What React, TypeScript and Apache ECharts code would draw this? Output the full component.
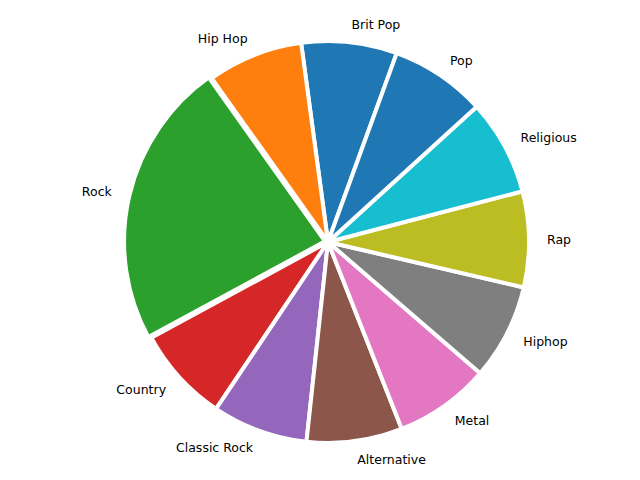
import React, { useEffect, useRef } from "react";
import * as echarts from "echarts";

const categories = [
  "Brit Pop",
  "Hip Hop",
  "Rock",
  "Country",
  "Classic Rock",
  "Alternative",
  "Metal",
  "Hiphop",
  "Rap",
  "Religious",
  "Pop",
];
const values = [1, 1, 3, 1, 1, 1, 1, 1, 1, 1, 1];
const exploded = ["Rock"];
const colors = [
  "#1f77b4",
  "#ff7f0e",
  "#2ca02c",
  "#d62728",
  "#9467bd",
  "#8c564b",
  "#e377c2",
  "#7f7f7f",
  "#bcbd22",
  "#17becf",
  "#1f77b4",
];

export default function App() {
  const ref = useRef<HTMLDivElement>(null);
  useEffect(() => {
    if (!ref.current) return;
    const chart = echarts.init(ref.current, null, { renderer: "svg" });
    chart.setOption({
      animation: false,
      backgroundColor: "#ffffff",
      series: [
        {
          type: "pie",
          center: [328, 242],
          radius: 201,
          startAngle: 70,
          clockwise: false,
          avoidLabelOverlap: false,
          selectedMode: "multiple",
          selectedOffset: 3,
          itemStyle: { borderColor: "#ffffff", borderWidth: 4 },
          label: {
            show: true,
            position: "outside",
            color: "#000000",
            fontSize: 12.5,
            fontFamily: "DejaVu Sans",
            distanceToLabelLine: 0,
            alignTo: "none",
          },
          labelLine: { show: false, length: 18, length2: 0 },
          emphasis: { disabled: true },
          data: categories.map((name, i) => ({
            name,
            value: values[i],
            selected: exploded.includes(name),
            itemStyle: { color: colors[i] },
          })),
        },
      ],
    });
    return () => chart.dispose();
  }, []);
  return (
    <div
      ref={ref}
      style={{ position: "absolute", left: 0, top: 0, width: 640, height: 480 }}
    />
  );
}
